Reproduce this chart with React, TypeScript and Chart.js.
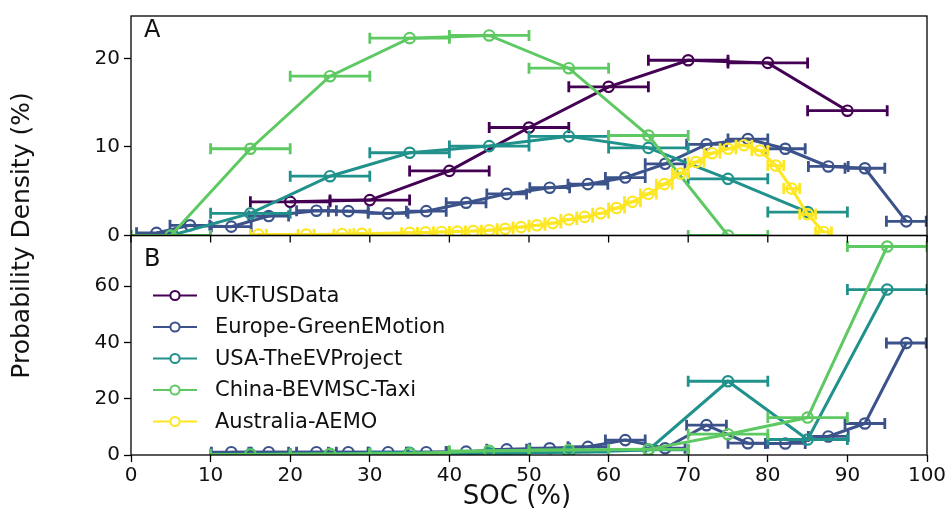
import React, { useEffect, useRef } from 'react';
import { Chart, registerables } from 'chart.js';

Chart.register(...registerables);

const FONT = "'DejaVu Sans', 'Liberation Sans', sans-serif";

const seriesNames = ['UK-TUSData', 'Europe-GreenEMotion', 'USA-TheEVProject', 'China-BEVMSC-Taxi', 'Australia-AEMO'];
const seriesColors = ['#440154', '#3b528b', '#21918c', '#5ec962', '#fde725'];

const xTicks = [0, 10, 20, 30, 40, 50, 60, 70, 80, 90, 100];
const yTicksA = [0, 10, 20];
const yTicksB = [0, 20, 40, 60];
const yMaxA = 24.8;
const yMaxB = 78;
const panelLabels = ['A', 'B'];
const xTitle = 'SOC (%)';
const yTitle = 'Probability Density (%)';

// UK-TUSData (panel A)
const ukX = [20, 30, 40, 50, 60, 70, 80, 90];
const ukY = [3.8, 4.0, 7.3, 12.2, 16.8, 19.8, 19.5, 14.1];
const ukErr = 5;

// Europe-GreenEMotion
const euX = [3.2, 7.4, 12.6, 17.3, 23.3, 27.3, 32.3, 37.1, 42.1, 47.2, 52.6, 57.4, 62.1, 67.1, 72.3, 77.5, 82.2, 87.6, 92.2, 97.4];
const euYA = [0.3, 1.15, 1.0, 2.2, 2.8, 2.75, 2.5, 2.75, 3.7, 4.7, 5.4, 5.8, 6.55, 8.1, 10.3, 10.9, 9.8, 7.8, 7.6, 1.6];
const euXB = [12.6, 17.3, 23.3, 27.3, 32.3, 37.1, 42.1, 47.2, 52.6, 57.4, 62.1, 67.1, 72.3, 77.5, 82.2, 87.6, 92.2, 97.4];
const euYB = [1.0, 1.0, 1.0, 1.0, 1.0, 1.0, 1.2, 2.0, 2.4, 2.9, 5.3, 2.4, 10.6, 4.2, 4.1, 6.6, 11.2, 39.8];
const euErr = 2.5;

// USA-TheEVProject
const usXA = [5, 15, 25, 35, 45, 55, 65, 75, 85];
const usYA = [0, 2.5, 6.7, 9.35, 10.1, 11.2, 9.9, 6.4, 2.65];
const usXB = [15, 25, 35, 45, 55, 65, 75, 85, 95];
const usYB = [0.3, 0.4, 0.8, 0.6, 1.0, 1.8, 26.2, 5.5, 58.8];
const usErr = 5;

// China-BEVMSC-Taxi
const cnXA = [5, 15, 25, 35, 45, 55, 65, 75];
const cnYA = [0, 9.8, 18.0, 22.3, 22.6, 18.9, 11.3, 0];
const cnXB = [15, 25, 35, 45, 55, 65, 75, 85, 95];
const cnYB = [0.2, 0.3, 0.5, 1.5, 1.8, 2.0, 7.4, 13.3, 74.1];
const cnErr = 5;

// Australia-AEMO (panel A)
const auX = [16, 22, 26.5, 29, 35, 37, 39, 41, 43, 45, 47, 49, 51, 53, 55, 57, 59, 61, 63, 65, 67, 69, 71, 73, 75, 77, 79, 81, 83, 85, 87];
const auY = [0.1, 0.1, 0.15, 0.2, 0.3, 0.35, 0.4, 0.45, 0.5, 0.6, 0.75, 0.95, 1.15, 1.4, 1.8, 2.1, 2.5, 3.1, 3.8, 4.7, 5.8, 7.0, 8.3, 9.3, 9.8, 10.2, 9.6, 7.9, 5.3, 2.4, 0.4];
const auErr = 1;

function makeSet(si: number, xs: number[], ys: number[], err: number, axis: string, idx: number) {
  return {
    label: seriesNames[si] + (axis === 'yB' ? ' (B)' : ''),
    data: xs.map((x, i) => ({ x, y: ys[i] })),
    yAxisID: axis,
    xAxisID: 'x',
    borderColor: seriesColors[si],
    backgroundColor: seriesColors[si],
    borderWidth: 3,
    pointRadius: 5.2,
    pointHoverRadius: 5.2,
    pointBorderWidth: 2.2,
    pointBackgroundColor: 'rgba(0,0,0,0)',
    pointBorderColor: seriesColors[si],
    tension: 0,
    fill: false,
    order: 100 - idx,
    errX: err,
  } as any;
}

const errorBarPlugin = {
  id: 'errbars',
  beforeDatasetDraw(chart: any, args: any) {
    const ds = chart.data.datasets[args.index];
    const xs = chart.scales.x;
    const ys = chart.scales[ds.yAxisID];
    const ctx = chart.ctx;
    ctx.save();
    ctx.beginPath();
    ctx.rect(xs.left, ys.top, xs.right - xs.left, ys.bottom - ys.top);
    ctx.clip();
    ctx.strokeStyle = ds.borderColor;
    ctx.lineWidth = 2.8;
    ctx.lineCap = 'butt';
    ds.data.forEach((p: any) => {
      const y = ys.getPixelForValue(p.y);
      const x1 = xs.getPixelForValue(p.x - ds.errX);
      const x2 = xs.getPixelForValue(p.x + ds.errX);
      ctx.beginPath();
      ctx.moveTo(x1, y);
      ctx.lineTo(x2, y);
      ctx.moveTo(x1, y - 5.5);
      ctx.lineTo(x1, y + 5.5);
      ctx.moveTo(x2, y - 5.5);
      ctx.lineTo(x2, y + 5.5);
      ctx.stroke();
    });
  },
  afterDatasetDraw(chart: any) {
    chart.ctx.restore();
  },
};

const decorPlugin = {
  id: 'decor',
  afterDatasetsDraw(chart: any) {
    const ctx = chart.ctx;
    const xs = chart.scales.x;
    const yA = chart.scales.yA;
    const yB = chart.scales.yB;
    ctx.save();
    ctx.strokeStyle = '#000';
    ctx.lineWidth = 1.3;
    [yA, yB].forEach((s: any) => {
      ctx.strokeRect(xs.left, s.top, xs.right - xs.left, s.bottom - s.top);
    });
    // ticks of panel A's x-axis (pointing outward)
    ctx.beginPath();
    xTicks.forEach((v) => {
      const px = xs.getPixelForValue(v);
      ctx.moveTo(px, yA.bottom);
      ctx.lineTo(px, yA.bottom + 7);
    });
    ctx.stroke();

    // panel labels
    ctx.fillStyle = '#111';
    ctx.font = `24px ${FONT}`;
    ctx.textAlign = 'left';
    ctx.textBaseline = 'alphabetic';
    ctx.fillText(panelLabels[0], xs.left + 13, yA.top + 21);
    ctx.fillText(panelLabels[1], xs.left + 13, yB.top + 30);

    // legend in panel B
    const rowStart = yB.top + 60;
    const rowGap = 31.5;
    ctx.font = `21px ${FONT}`;
    ctx.textBaseline = 'middle';
    seriesNames.forEach((name, i) => {
      const cy = rowStart + i * rowGap;
      ctx.strokeStyle = seriesColors[i];
      ctx.lineWidth = 2;
      ctx.beginPath();
      ctx.moveTo(xs.left + 22, cy);
      ctx.lineTo(xs.left + 66, cy);
      ctx.stroke();
      ctx.fillStyle = '#fff';
      ctx.beginPath();
      ctx.arc(xs.left + 44, cy, 4.6, 0, Math.PI * 2);
      ctx.fill();
      ctx.lineWidth = 2;
      ctx.stroke();
      ctx.fillStyle = '#111';
      ctx.fillText(name, xs.left + 84, cy + 1);
    });

    // axis titles
    ctx.fillStyle = '#111';
    ctx.textAlign = 'center';
    ctx.textBaseline = 'alphabetic';
    ctx.font = `26px ${FONT}`;
    ctx.fillText(xTitle, (xs.left + xs.right) / 2 - 12, 504);
    ctx.font = `25px ${FONT}`;
    ctx.save();
    ctx.translate(29, (yA.top + yB.bottom) / 2);
    ctx.rotate(-Math.PI / 2);
    ctx.fillText(yTitle, 0, 0);
    ctx.restore();
    ctx.restore();
  },
};

function yScale(max: number, ticks: number[]) {
  return {
    type: 'linear',
    position: 'left',
    stack: 'panels',
    stackWeight: 1,
    min: 0,
    max,
    afterBuildTicks: (s: any) => {
      s.ticks = ticks.map((v) => ({ value: v }));
    },
    afterFit: (s: any) => {
      s.width = 131;
    },
    ticks: {
      font: { family: FONT, size: 20 },
      color: '#111',
      padding: 4,
    },
    grid: {
      display: true,
      drawOnChartArea: false,
      drawTicks: true,
      tickLength: 7,
      tickWidth: 1.3,
      tickColor: '#000',
    },
    border: { display: false },
  };
}

export default function App() {
  const ref = useRef<HTMLCanvasElement | null>(null);
  useEffect(() => {
    if (!ref.current) return;
    const datasets = [
      makeSet(0, ukX, ukY, ukErr, 'yA', 0),
      makeSet(1, euX, euYA, euErr, 'yA', 1),
      makeSet(2, usXA, usYA, usErr, 'yA', 2),
      makeSet(3, cnXA, cnYA, cnErr, 'yA', 3),
      makeSet(4, auX, auY, auErr, 'yA', 4),
      makeSet(1, euXB, euYB, euErr, 'yB', 5),
      makeSet(2, usXB, usYB, usErr, 'yB', 6),
      makeSet(3, cnXB, cnYB, cnErr, 'yB', 7),
    ];
    const chart = new Chart(ref.current, {
      type: 'line',
      data: { datasets },
      options: {
        animation: false,
        responsive: false,
        maintainAspectRatio: false,
        layout: { padding: { left: 0, top: 10, right: 25, bottom: 0 } },
        plugins: { legend: { display: false }, tooltip: { enabled: false } },
        scales: {
          x: {
            type: 'linear',
            position: 'bottom',
            min: 0,
            max: 100,
            afterBuildTicks: (s: any) => {
              s.ticks = xTicks.map((v) => ({ value: v }));
            },
            afterFit: (s: any) => {
              s.height = 56;
            },
            ticks: {
              font: { family: FONT, size: 20 },
              color: '#111',
              padding: 2,
              maxRotation: 0,
              autoSkip: false,
            },
            grid: {
              display: true,
              drawOnChartArea: false,
              drawTicks: true,
              tickLength: 7,
              tickWidth: 1.3,
              tickColor: '#000',
            },
            border: { display: false },
          },
          yB: yScale(yMaxB, yTicksB),
          yA: yScale(yMaxA, yTicksA),
        } as any,
      },
      plugins: [errorBarPlugin, decorPlugin],
    } as any);
    return () => chart.destroy();
  }, []);
  return (
    <div style={{ position: 'absolute', left: 0, top: 0, width: 952, height: 511, background: '#fff' }}>
      <canvas ref={ref} width={952} height={511} style={{ width: 952, height: 511 }} />
    </div>
  );
}
